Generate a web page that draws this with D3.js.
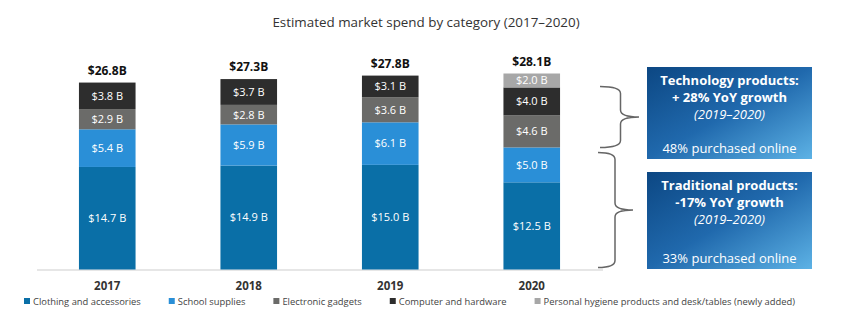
<!DOCTYPE html>
<html lang="en">
<head>
  <style>
    body { margin: 0; background: #fff; }
    text { font-family: "Open Sans", sans-serif; }
    .title { font-size: 13.4px; fill: #333; }
    .total { font-size: 12px; font-weight: bold; fill: #111; }
    .seg-label { font-size: 11px; fill: #fff; }
    .legend text { font-size: 9.4px; fill: #444; }
    .box-text { fill: #fff; font-size: 13px; }
  </style>
  <script src="https://d3js.org/d3.v7.min.js"></script>
</head>
<body>
  <script>
    const years = ["2017", "2018", "2019", "2020"];
    const categories = [
      "Clothing and accessories",
      "School supplies",
      "Electronic gadgets",
      "Computer and hardware",
      "Personal hygiene products and desk/tables (newly added)"
    ];
    // spend in $B, one array per category, ordered by year
    const clothing = [14.7, 14.9, 15.0, 12.5];
    const schoolSupplies = [5.4, 5.9, 6.1, 5.0];
    const gadgets = [2.9, 2.8, 3.6, 4.6];
    const computers = [3.8, 3.7, 3.1, 4.0];
    const hygiene = [0, 0, 0, 2.0];
    const totals = [26.8, 27.3, 27.8, 28.1];

    const colors = ["#0a6fa7", "#2a8fd7", "#6b6b69", "#2d2d2d", "#a7a7a7"];

    const techNote = ["Technology products:", "+ 28% YoY growth", "(2019\u20132020)", "48% purchased online"];
    const tradNote = ["Traditional products:", "-17% YoY growth", "(2019\u20132020)", "33% purchased online"];

    const series = [clothing, schoolSupplies, gadgets, computers, hygiene];
    const rows = years.map((yr, i) => {
      const r = { year: yr };
      categories.forEach((c, k) => r[c] = series[k][i]);
      return r;
    });

    const W = 842, H = 323;
    const svg = d3.select("body").append("svg")
      .attr("width", W)
      .attr("height", H);

    const x = d3.scaleBand()
      .domain(years)
      .range([36.5, 602.5])
      .paddingInner(0.6)
      .paddingOuter(0.3);

    const y = d3.scaleLinear()
      .domain([0, d3.max(totals)])
      .range([269.5, 73.5]);

    svg.append("text")
      .attr("class", "title")
      .attr("x", 426)
      .attr("y", 27)
      .attr("text-anchor", "middle")
      .text("Estimated market spend by category (2017\u20132020)");

    // baseline + year labels
    const xAxis = svg.append("g")
      .attr("transform", `translate(0,${y(0)})`)
      .call(d3.axisBottom(x).tickSize(0).tickPadding(12));
    xAxis.select(".domain").attr("stroke", "#e6e6e6").attr("stroke-width", 2);
    xAxis.selectAll("text")
      .style("font-family", "'Open Sans', sans-serif")
      .style("font-size", "11.5px")
      .style("font-weight", "bold")
      .attr("fill", "#333");

    const stacked = d3.stack().keys(categories)(rows);

    const layer = svg.selectAll(".layer")
      .data(stacked)
      .join("g")
      .attr("class", "layer")
      .attr("fill", (d, i) => colors[i]);

    layer.selectAll("rect")
      .data(d => d.filter(s => s[1] - s[0] > 0))
      .join("rect")
      .attr("x", d => x(d.data.year))
      .attr("width", x.bandwidth())
      .attr("y", d => y(d[1]))
      .attr("height", d => y(d[0]) - y(d[1]));

    layer.selectAll("text")
      .data(d => d.filter(s => s[1] - s[0] > 0))
      .join("text")
      .attr("class", "seg-label")
      .attr("x", d => x(d.data.year) + x.bandwidth() / 2)
      .attr("y", d => (y(d[0]) + y(d[1])) / 2)
      .attr("dy", "0.35em")
      .attr("text-anchor", "middle")
      .text(d => `$${(d[1] - d[0]).toFixed(1)} B`);

    svg.selectAll(".total")
      .data(years)
      .join("text")
      .attr("class", "total")
      .attr("x", d => x(d) + x.bandwidth() / 2)
      .attr("y", (d, i) => y(totals[i]) - 8)
      .attr("text-anchor", "middle")
      .text((d, i) => `$${totals[i].toFixed(1)}B`);

    // curly braces grouping 2020 segments
    function brace(x0, xv, xt, y0, y1) {
      const ym = (y0 + y1) / 2, r = 7;
      return `M${x0},${y0} Q${xv},${y0} ${xv},${y0 + r} L${xv},${ym - r} Q${xv},${ym} ${xt},${ym}` +
        ` M${xt},${ym} Q${xv},${ym} ${xv},${ym + r} L${xv},${y1 - r} Q${xv},${y1} ${x0},${y1}`;
    }
    const last = stacked.map(s => s[3]);
    const techTop = y(last[3][1]) - 1, techBottom = y(last[2][0]);
    const tradTop = y(last[1][1]) + 5, tradBottom = y(0) - 2;

    svg.append("path")
      .attr("d", brace(600, 620.5, 639, techTop, techBottom))
      .attr("fill", "none").attr("stroke", "#666").attr("stroke-width", 1.5);
    svg.append("path")
      .attr("d", brace(598, 615, 633, tradTop, tradBottom))
      .attr("fill", "none").attr("stroke", "#666").attr("stroke-width", 1.5);

    const defs = svg.append("defs");
    const grad = defs.append("linearGradient")
      .attr("id", "boxGrad")
      .attr("x1", "0").attr("y1", "0").attr("x2", "1").attr("y2", "1");
    grad.append("stop").attr("offset", "0").attr("stop-color", "#0c4783");
    grad.append("stop").attr("offset", "0.5").attr("stop-color", "#2069ad");
    grad.append("stop").attr("offset", "1").attr("stop-color", "#5db2e5");

    function noteBox(lines, top, bottom) {
      const g = svg.append("g");
      g.append("rect")
        .attr("x", 647).attr("y", top)
        .attr("width", 165).attr("height", bottom - top)
        .attr("fill", "url(#boxGrad)");
      const cx = 729.5;
      g.append("text").attr("class", "box-text").attr("x", cx).attr("y", top + 18)
        .attr("text-anchor", "middle").attr("font-weight", "bold").text(lines[0]);
      g.append("text").attr("class", "box-text").attr("x", cx).attr("y", top + 35)
        .attr("text-anchor", "middle").attr("font-weight", "bold").text(lines[1]);
      g.append("text").attr("class", "box-text").attr("x", cx).attr("y", top + 52)
        .attr("text-anchor", "middle").attr("font-style", "italic").text(lines[2]);
      g.append("text").attr("class", "box-text").attr("x", cx).attr("y", bottom - 6)
        .attr("text-anchor", "middle").text(lines[3]);
    }
    noteBox(techNote, 67, 159);
    noteBox(tradNote, 172, 269);

    // legend
    const legend = svg.append("g").attr("class", "legend");
    let lx = 24;
    categories.forEach((c, i) => {
      const item = legend.append("g").attr("transform", `translate(${lx},298)`);
      item.append("rect").attr("width", 6).attr("height", 6).attr("fill", colors[i]);
      const t = item.append("text").attr("x", 9).attr("y", 7).text(c);
      lx += 9 + t.node().getComputedTextLength() + 28;
    });
  </script>
</body>
</html>
